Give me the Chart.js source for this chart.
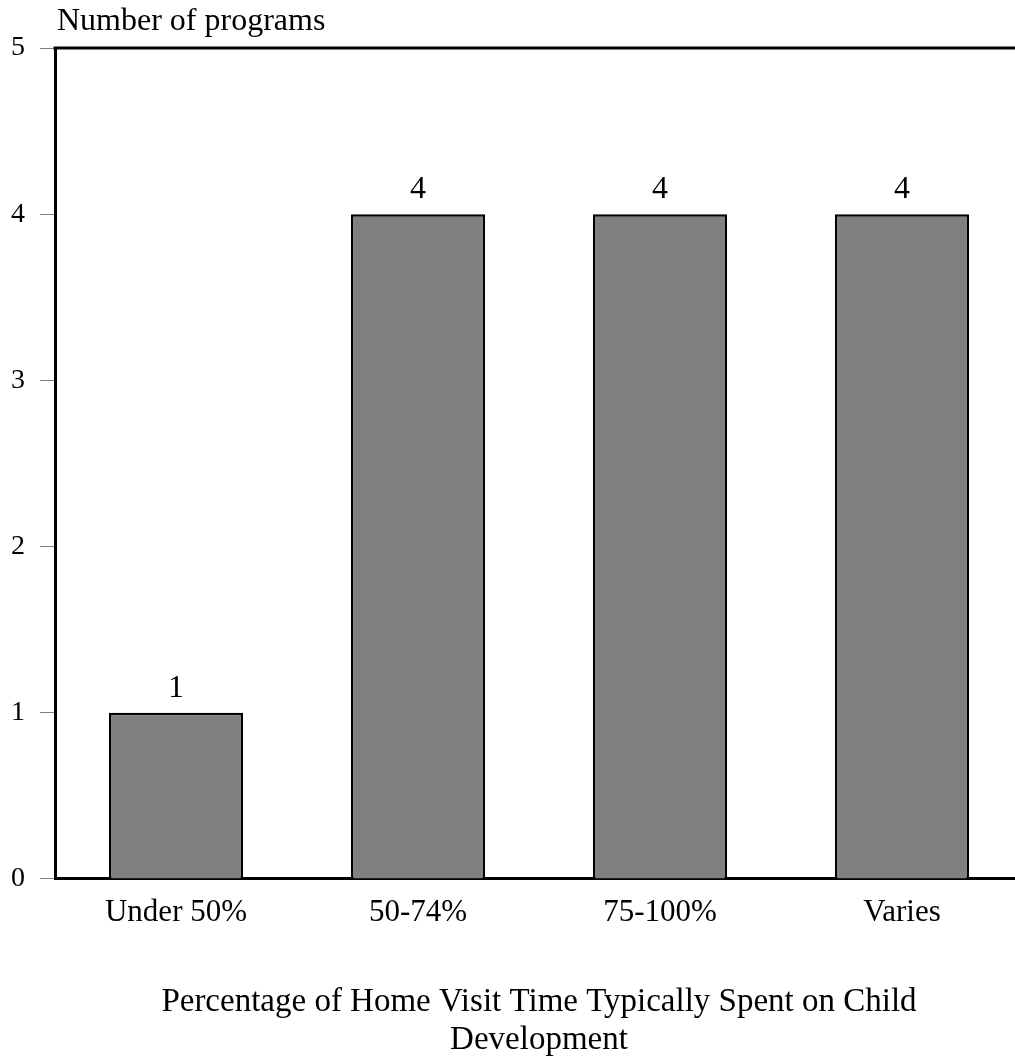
<!DOCTYPE html>
<html>
<head>
<meta charset="utf-8">
<script src="https://cdn.jsdelivr.net/npm/chart.js@4"></script>
<style>
    html, body { margin: 0; padding: 0; background: #fff; overflow: hidden; }
    #wrap { width: 1023px; height: 1059px; position: relative; }
</style>
</head>
<body>
<div id="wrap"><canvas id="grafico-programas"></canvas></div>
<script>
// Datos del grafico
const categorias = ['Under 50%', '50-74%', '75-100%', 'Varies'];
const programas = [1, 4, 4, 4];
const tituloY = 'Number of programs';
const tituloX = ['Percentage of Home Visit Time Typically Spent on Child', 'Development'];

var fontFamily = '"Liberation Serif", "Times New Roman", serif';

// etiquetas sobre barras, borde superior y titulo del eje Y
const extras = {
    id: 'extras',
    afterDatasetsDraw(chart) {
        const ctx = chart.ctx;
        const area = chart.chartArea;
        ctx.save();
        // borde superior
        ctx.strokeStyle = '#000';
        ctx.lineWidth = 3;
        ctx.beginPath();
        ctx.moveTo(area.left - 1.5, area.top);
        ctx.lineTo(chart.width, area.top);
        ctx.stroke();

        ctx.fillStyle = '#000';
        ctx.font = '32px ' + fontFamily;
        ctx.textAlign = 'center';
        ctx.textBaseline = 'alphabetic';
        chart.getDatasetMeta(0).data.forEach(function(bar, i) {
            ctx.fillText(String(programas[i]), bar.x, bar.y - 16);
        });

        ctx.textAlign = 'left';
        ctx.fillText(tituloY, area.left + 2, 30);
        ctx.restore();
    }
};

var ctx = document.getElementById('grafico-programas');
const config = {
    type: 'bar',
    data: {
        labels: categorias,
        datasets: [{
            data: programas,
            backgroundColor: '#808080',
            borderColor: '#000',
            borderWidth: 2.5,
            barPercentage: 0.554,
            categoryPercentage: 1
        }]
    },
    options: {
        responsive: true,
        maintainAspectRatio: false,
        animation: false,
        layout: { padding: { top: 48, left: 0, right: 0, bottom: 0 } },
        plugins: {
            legend: { display: false },
            tooltip: { enabled: false },
            title: { display: false }
        },
        scales: {
            x: {
                grid: { display: false, drawTicks: false },
                border: { display: true, color: '#000', width: 3 },
                ticks: { color: '#000', padding: 15, font: { family: fontFamily, size: 31 } },
                title: {
                    display: true,
                    text: tituloX,
                    color: '#000',
                    font: { family: fontFamily, size: 33, lineHeight: 1.15 },
                    padding: { top: 37, bottom: 0 }
                }
            },
            y: {
                min: 0,
                max: 5,
                afterFit: function(scale) { scale.width = 55; },
                ticks: { stepSize: 1, color: '#000', padding: 15, font: { family: fontFamily, size: 28 } },
                grid: { drawOnChartArea: false, drawTicks: true, tickLength: 15, color: '#808080', lineWidth: 1 },
                border: { display: true, color: '#000', width: 3 }
            }
        }
    },
    plugins: [extras]
};

var myChart = new Chart(ctx, config);
</script>
</body>
</html>
